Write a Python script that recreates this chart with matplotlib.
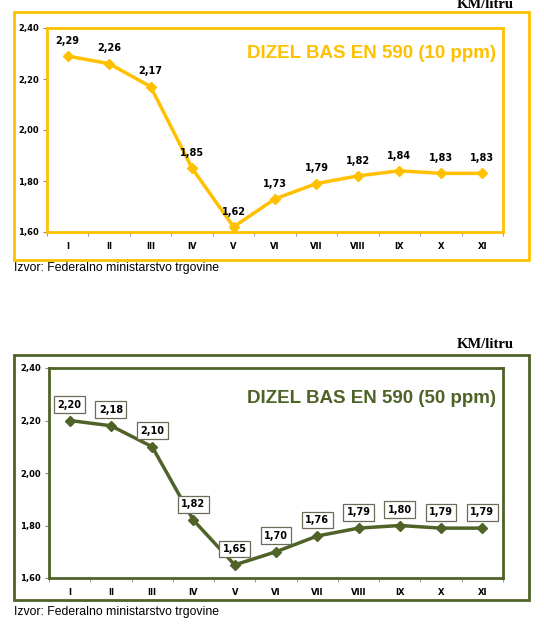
import matplotlib
matplotlib.use("Agg")
import matplotlib.pyplot as plt
from matplotlib.patches import Rectangle

months = ["I", "II", "III", "IV", "V", "VI", "VII", "VIII", "IX", "X", "XI"]
diesel_10ppm = [2.29, 2.26, 2.17, 1.85, 1.62, 1.73, 1.79, 1.82, 1.84, 1.83, 1.83]
diesel_50ppm = [2.20, 2.18, 2.10, 1.82, 1.65, 1.70, 1.76, 1.79, 1.80, 1.79, 1.79]
y_ticks = [1.60, 1.80, 2.00, 2.20, 2.40]
title_10 = "DIZEL BAS EN 590 (10 ppm)"
title_50 = "DIZEL BAS EN 590 (50 ppm)"
unit = "KM/litru"
source = "Izvor: Federalno ministarstvo trgovine"

W, H = 544, 633
fig = plt.figure(figsize=(W / 100, H / 100), dpi=100)
fig.patch.set_facecolor("white")

GOLD = "#FFC000"
OLIVE = "#4F6228"


def fx(px):
    return px / W


def fy(py):
    return 1 - py / H


def comma(v):
    return f"{v:.2f}".replace(".", ",")


def draw(ax_box, outer_box, values, color, title, title_y, boxed, unit_y, src_y):
    l, t, r, b = ax_box
    ax = fig.add_axes([fx(l), fy(b), fx(r - l), fy(t) - fy(b)])
    x = list(range(len(values)))
    ax.plot(x, values, color=color, lw=2.5, marker="D", ms=5.5, zorder=3)
    ax.set_xlim(-0.5, len(values) - 0.5)
    ax.set_ylim(1.60, 2.40)
    ax.set_yticks(y_ticks)
    ax.set_yticklabels([comma(v) for v in y_ticks], fontsize=6, fontweight="bold",
                       family="DejaVu Sans")
    ax.set_xticks(x)
    ax.set_xticklabels(months, fontsize=6, fontweight="bold", family="DejaVu Sans")
    ax.set_xticks([i + 0.5 for i in range(-1, len(values))], minor=True)
    ax.tick_params(axis="x", which="major", length=0, pad=7)
    ax.tick_params(axis="x", which="minor", length=3, color="#888888")
    ax.tick_params(axis="y", length=3, color="#888888", pad=3)
    for s in ax.spines.values():
        s.set_color(color)
        s.set_linewidth(2)
    for xi, v in zip(x, values):
        if boxed:
            ax.annotate(comma(v), (xi, v), xytext=(0, 11.5), textcoords="offset points",
                        ha="center", va="center", fontsize=7, fontweight="bold",
                        family="DejaVu Sans",
                        bbox=dict(boxstyle="square,pad=0.35", fc="white", ec="#6b6b5a", lw=0.9))
        else:
            ax.annotate(comma(v), (xi, v), xytext=(0, 11), textcoords="offset points",
                        ha="center", va="center", fontsize=7, fontweight="bold",
                        family="DejaVu Sans")
    ax.text(0.985, title_y, title, transform=ax.transAxes, ha="right", va="center",
            fontsize=13.5, fontweight="bold", color=color, family="Liberation Sans")
    ol, ot, orr, ob = outer_box
    fig.patches.append(Rectangle((fx(ol), fy(ob)), fx(orr - ol), fy(ot) - fy(ob),
                                 transform=fig.transFigure, fill=False, ec=color, lw=2))
    fig.text(fx(485), fy(unit_y), unit, ha="center", va="center", fontsize=10.5,
             fontweight="bold", family="Liberation Serif")
    fig.text(fx(14), fy(src_y), source, ha="left", va="center", fontsize=8.8,
             family="Liberation Sans")


draw((47, 28, 503, 232), (14, 12, 529, 260), diesel_10ppm, GOLD, title_10, 0.877,
     False, 5, 268)
draw((49, 368, 503, 578), (14, 355, 529, 600), diesel_50ppm, OLIVE, title_50, 0.857,
     True, 344, 612)

fig.savefig("out.png", dpi=100)
